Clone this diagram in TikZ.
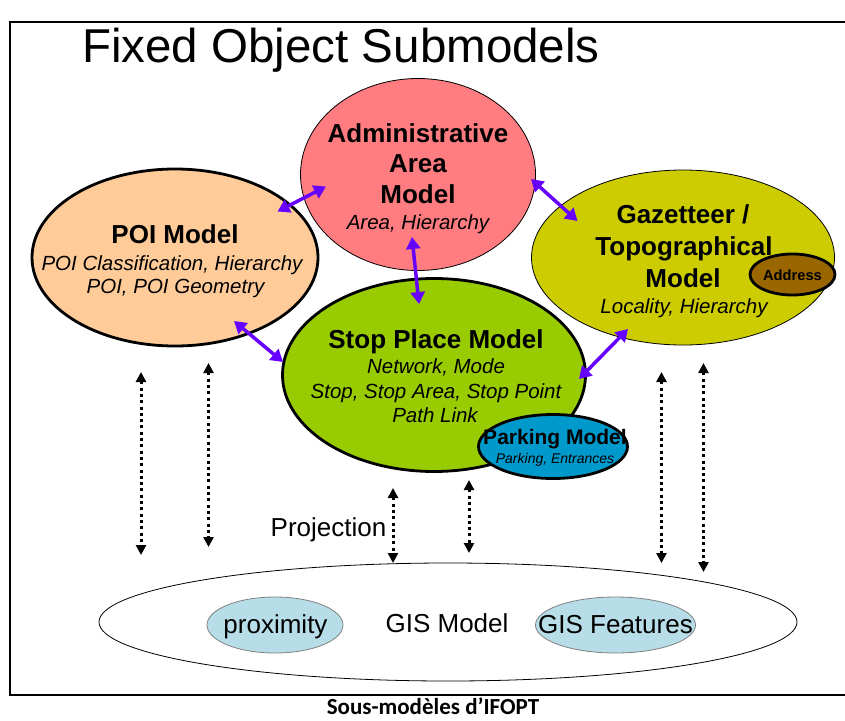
\documentclass[tikz,border=0pt]{standalone}
\usepackage{fontspec}
\setmainfont{Liberation Sans}
\newfontfamily\capfont{Carlito}
\usetikzlibrary{shapes.geometric,arrows.meta}
\definecolor{adminpink}{HTML}{FF7C80}
\definecolor{poipeach}{HTML}{FFCC99}
\definecolor{gazolive}{HTML}{CCCC00}
\definecolor{addrbrown}{HTML}{996600}
\definecolor{stopgreen}{HTML}{99CC00}
\definecolor{parkblue}{HTML}{0099CC}
\definecolor{gislight}{HTML}{B7DEE8}
\definecolor{linkpurple}{HTML}{6600FF}
\begin{document}
\begin{tikzpicture}[x=1pt,y=-1pt,
  ell/.style={ellipse,draw=black,inner sep=0pt,outer sep=0pt},
  thinell/.style={ell,line width=0.8pt},
  thickell/.style={ell,line width=2.8pt},
  subell/.style={ell,draw=gray,line width=0.8pt,fill=gislight},
  bt/.style={font=\fontsize{26}{30}\selectfont\bfseries,anchor=base,inner sep=0pt},
  it/.style={font=\fontsize{20.5}{24}\selectfont\itshape,anchor=base,inner sep=0pt},
  rt/.style={font=\fontsize{26}{30}\selectfont,anchor=base,inner sep=0pt},
  link/.style={draw=linkpurple,line width=3.5pt,{Triangle[length=12pt,width=14pt]}-{Triangle[length=12pt,width=14pt]}},
  proj/.style={draw=black,line width=3pt,dash pattern=on 3pt off 3.3pt,{Triangle[length=10pt,width=10pt]}-{Triangle[length=10pt,width=10pt]}},
]
\useasboundingbox (0,0) rectangle (845,720);
\fill[white] (0,0) rectangle (845,720);

% frame
\draw[line width=2pt] (850,22) -- (10,22) -- (10,695) -- (850,695);

% title and caption
\node[anchor=base west,inner sep=0pt,font=\fontsize{47.5}{50}\selectfont] (title) at (82,62) {Fixed Object Submodels};
\node[anchor=base,inner sep=0pt,font=\capfont\bfseries\fontsize{23}{25}\selectfont] (caption) at (433,714) {Sous-modèles d’IFOPT};

% ellipses
\node[thickell,fill=poipeach,minimum width=286,minimum height=177] (poi) at (175,257.5) {};
\node[thinell,fill=adminpink,minimum width=235,minimum height=192] (admin) at (418,174.5) {};
\node[thinell,fill=gazolive,minimum width=303,minimum height=175] (gaz) at (683,257.5) {};
\node[thickell,fill=stopgreen,minimum width=303,minimum height=193] (stop) at (434,375) {};
\node[thinell,fill=white,minimum width=698,minimum height=118] (gis) at (448,622) {};
\node[subell,minimum width=136,minimum height=56] (prox) at (275,625) {};
\node[subell,minimum width=160,minimum height=56] (feat) at (615.5,625) {};

% texts
\node[bt] (admint1) at (418,142) {Administrative};
\node[bt] (admint2) at (418,172) {Area};
\node[bt] (admint3) at (418,203) {Model};
\node[it] (admint4) at (418,229) {Area, Hierarchy};

\node[bt] (poit1) at (175,243) {POI Model};
\node[it] (poit2) at (172,270) {POI Classification, Hierarchy};
\node[it] (poit3) at (175.5,293) {POI, POI Geometry};

\node[bt] (gazt1) at (683,223) {Gazetteer /};
\node[bt] (gazt2) at (684,255) {Topographical};
\node[bt] (gazt3) at (683,287) {Model};
\node[it] (gazt4) at (684,313) {Locality, Hierarchy};

\node[thickell,fill=addrbrown,minimum width=85,minimum height=41] (addr) at (792.5,274.5) {};
\node[anchor=base,inner sep=0pt,font=\fontsize{14.7}{16}\selectfont\bfseries] (addrt) at (792.5,280.5) {Address};

\node[bt] (stopt1) at (436,348) {Stop Place Model};
\node[it] (stopt2) at (436,373) {Network, Mode};
\node[it] (stopt3) at (436,398) {Stop, Stop Area, Stop Point};
\node[it] (stopt4) at (435,422) {Path Link};

\node[thickell,fill=parkblue,minimum width=149,minimum height=64] (park) at (553,446.5) {};
\node[anchor=base,inner sep=0pt,font=\fontsize{21}{24}\selectfont\bfseries] (parkt1) at (555,444) {Parking Model};
\node[anchor=base,inner sep=0pt,font=\fontsize{14}{16}\selectfont\itshape] (parkt2) at (555,463) {Parking, Entrances};

\node[rt] (gist) at (447,632) {GIS Model};
\node[rt] (proxt) at (275.5,633) {proximity};
\node[rt] (featt) at (615.5,633) {GIS Features};
\node[rt] (projt) at (328.5,536) {Projection};

% purple links
\coordinate (a1) at (277.5,211.5); \coordinate (a2) at (326,186.5);
\coordinate (b1) at (412,237);     \coordinate (b2) at (419,304);
\coordinate (c1) at (531,179);     \coordinate (c2) at (577.5,221);
\coordinate (d1) at (234,321);     \coordinate (d2) at (283,362);
\coordinate (e1) at (628,329);     \coordinate (e2) at (579,379);
\draw[link] (a1) -- (a2);
\draw[link] (b1) -- (b2);
\draw[link] (c1) -- (c2);
\draw[link] (d1) -- (d2);
\draw[link] (e1) -- (e2);

% projection arrows
\coordinate (p1t) at (141,372);   \coordinate (p1b) at (141,555);
\coordinate (p2t) at (208.5,363); \coordinate (p2b) at (208.5,547);
\coordinate (p3t) at (393,488);   \coordinate (p3b) at (393,563);
\coordinate (p4t) at (469,480);   \coordinate (p4b) at (469,553);
\coordinate (p5t) at (661.5,372); \coordinate (p5b) at (661.5,563);
\coordinate (p6t) at (703.5,363); \coordinate (p6b) at (703.5,572);
\draw[proj] (p1t) -- (p1b);
\draw[proj] (p2t) -- (p2b);
\draw[proj] (p3t) -- (p3b);
\draw[proj] (p4t) -- (p4b);
\draw[proj] (p5t) -- (p5b);
\draw[proj] (p6t) -- (p6b);
\end{tikzpicture}
\end{document}
